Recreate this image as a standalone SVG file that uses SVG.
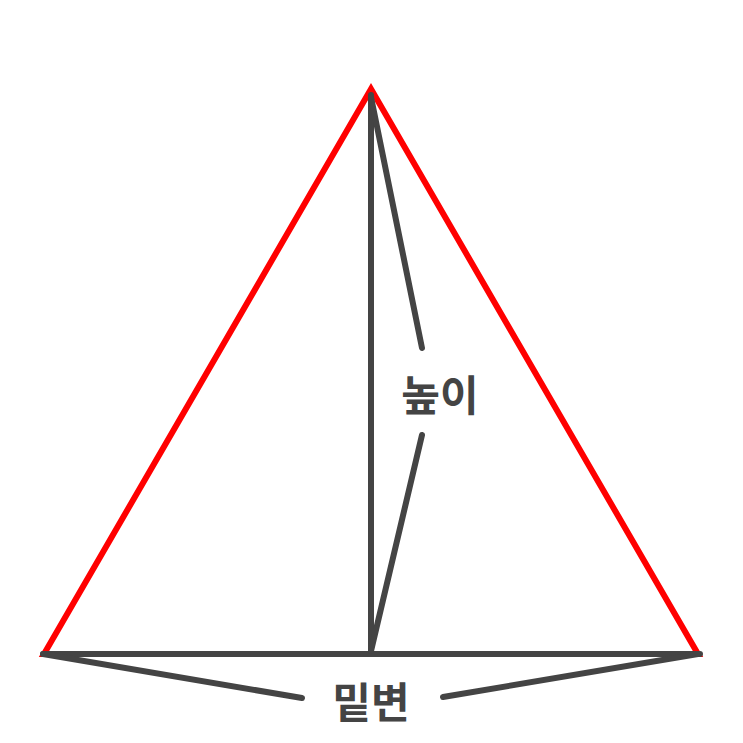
<svg xmlns="http://www.w3.org/2000/svg" width="743" height="743" viewBox="0 0 743 743">
<style>
.tri{fill:none;stroke:#ff0000;stroke-width:6;stroke-linejoin:miter}
.ln{fill:none;stroke:#444444;stroke-width:6;stroke-linecap:round}
.lbl{font-family:"Noto Sans CJK KR","Noto Sans",sans-serif;font-weight:bold;font-size:42px;fill:#444444;text-anchor:middle;dominant-baseline:central}
</style>
<rect width="743" height="743" fill="#ffffff"/>
<g id="triangle">
<polygon class="tri" points="371,89 44,654 698,654"/>
</g>
<g id="connectors">
<line class="ln" x1="371" y1="95" x2="371" y2="654"/>
<line class="ln" x1="43" y1="654" x2="700" y2="654"/>
<line class="ln" x1="371" y1="97" x2="422" y2="348"/>
<line class="ln" x1="422" y1="435" x2="371" y2="651"/>
<line class="ln" x1="43" y1="654" x2="302" y2="698"/>
<line class="ln" x1="443" y1="697" x2="698" y2="654"/>
</g>
<g id="height-label">
<text class="lbl" x="440" y="392">높이</text>
</g>
<g id="base-label">
<text class="lbl" x="371" y="699">밑변</text>
</g>
</svg>
